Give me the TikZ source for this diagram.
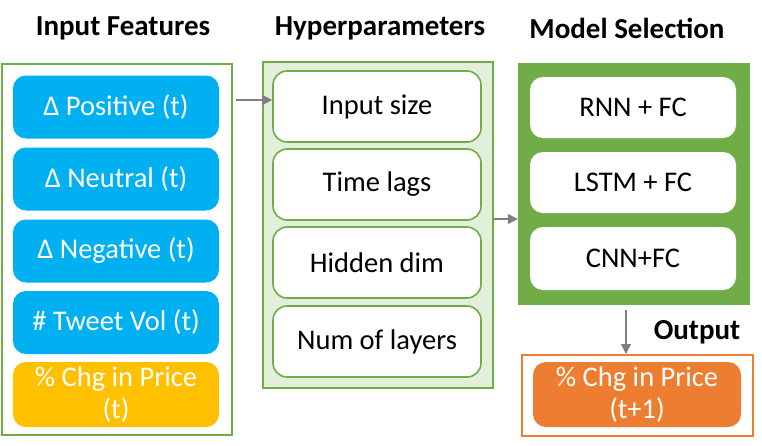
\documentclass[tikz,border=0pt]{standalone}
\usepackage{fontspec}
\setmainfont{Carlito}
\usetikzlibrary{arrows.meta}

\definecolor{xlblue}{HTML}{00B0F0}
\definecolor{xlgold}{HTML}{FFC000}
\definecolor{xlorange}{HTML}{ED7D31}
\definecolor{xlgreen}{HTML}{70AD47}
\definecolor{xlpale}{HTML}{E2EFDA}
\definecolor{xlgray}{HTML}{7F7F7F}

\begin{document}
\begin{tikzpicture}[
            x=1pt, y=-1pt,
            font=\fontsize{28.5}{32}\selectfont,
            title/.style={font=\fontsize{29}{32}\selectfont\bfseries},
            panel/.style={draw=xlgreen, line width=2pt, inner sep=0pt},
            featbox/.style={fill=xlblue, text=white, rounded corners=13pt,
                minimum width=206pt, minimum height=63pt, inner sep=0pt, align=center},
            hypbox/.style={draw=xlgreen, fill=white, line width=1.6pt, rounded corners=14pt,
                minimum width=208pt, minimum height=71pt, inner sep=0pt},
            mdlbox/.style={fill=white, rounded corners=13pt,
                minimum width=206pt, minimum height=61pt, inner sep=0pt},
            arr/.style={draw=xlgray, line width=1.3pt, -{Triangle[length=10pt, width=10pt]}}
        ]
            \useasboundingbox (0,0) rectangle (762,445);

            % titles
            \node[title] (tfeat) at (123,28) {Input Features};
            \node[title] (thyp) at (380,28) {Hyperparameters};
            \node[title] (tmdl) at (627,28) {Model Selection};

            % input features
            \node[panel, minimum width=230pt, minimum height=371pt] (feat) at (117,249.5) {};
            \node[featbox] (pos) at (116,107) {Δ Positive (t)};
            \node[featbox] (neu) at (116,179) {Δ Neutral (t)};
            \node[featbox] (neg) at (116,251) {Δ Negative (t)};
            \node[featbox] (vol) at (116,322.5) {\# Tweet Vol (t)};
            \node[featbox, fill=xlgold, minimum height=65pt] (price) at (116,394.5) {\% Chg in Price\\(t)};

            % hyperparameters
            \node[panel, fill=xlpale, minimum width=230pt, minimum height=326pt] (hyper) at (378,225) {};
            \node[hypbox] (insize) at (377,106.5) {Input size};
            \node[hypbox] (lags) at (377,184.5) {Time lags};
            \node[hypbox] (hdim) at (377,262.5) {Hidden dim};
            \node[hypbox] (nlay) at (377,341.5) {Num of layers};

            % model selection
            \node[fill=xlgreen, minimum width=232pt, minimum height=242pt, inner sep=0pt] (model) at (634,184) {};
            \node[mdlbox] (rnn) at (633,107.5) {RNN + FC};
            \node[mdlbox] (lstm) at (633,182.5) {LSTM + FC};
            \node[mdlbox, minimum height=63pt] (cnn) at (633,258.5) {CNN+FC};

            % output
            \node[title] (tout) at (697,332) {Output};
            \node[draw=xlorange, line width=2pt, minimum width=231pt, minimum height=81pt, inner sep=0pt] (outbox) at (637.5,395.5) {};
            \node[featbox, fill=xlorange, minimum width=208pt, minimum height=65pt] (next) at (637,394.5) {\% Chg in Price\\(t+1)};

            \draw[arr] ([xshift=3pt]feat.east |- 0,100) -- (insize.west |- 0,100);
            \draw[arr] (hyper.east |- 0,219) -- (model.west |- 0,219);
            \draw[arr] ([yshift=-5pt]model.south -| 626,0) -- (outbox.north -| 626,0);
        \end{tikzpicture}
\end{document}
